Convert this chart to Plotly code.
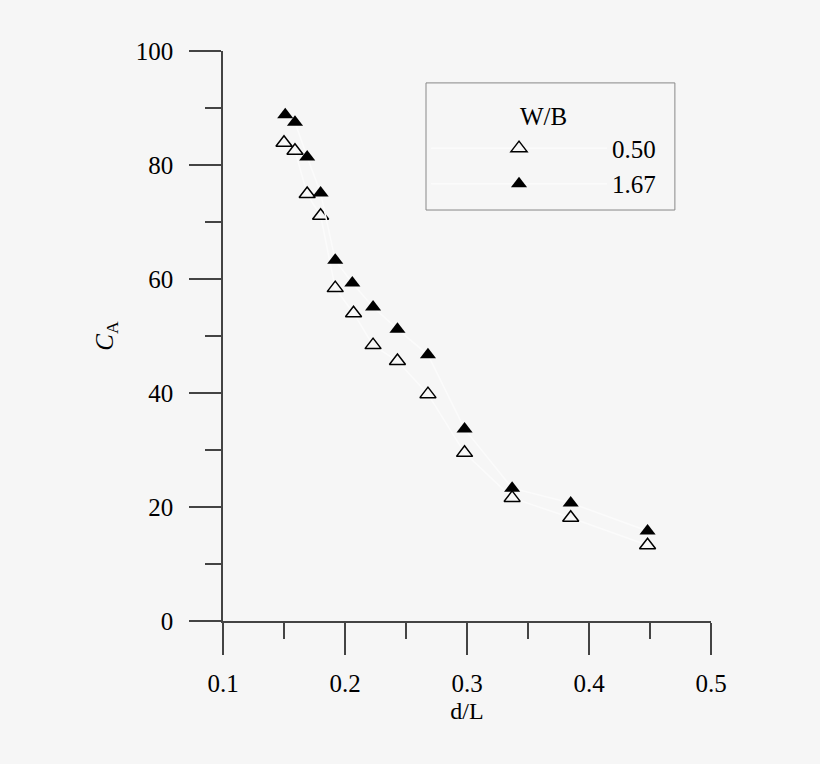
import plotly.graph_objects as go

# d/L and C_A
dl_050 = [0.150, 0.159, 0.169, 0.180, 0.192, 0.207, 0.223, 0.243, 0.268, 0.298, 0.337, 0.385, 0.448]
ca_050 = [83.9, 82.5, 74.9, 71.1, 58.4, 54.0, 48.4, 45.6, 39.8, 29.5, 21.6, 18.1, 13.3]

dl_167 = [0.151, 0.159, 0.169, 0.180, 0.192, 0.206, 0.223, 0.243, 0.268, 0.298, 0.337, 0.385, 0.448]
ca_167 = [88.8, 87.5, 81.4, 75.1, 63.3, 59.3, 55.1, 51.2, 46.7, 33.7, 23.3, 20.7, 15.8]

series_names = ["0.50", "1.67"]

bg = "#f6f6f6"
axis_col = "#444444"
faint = "#fbfbfb"
font_fam = "Liberation Serif, Times New Roman, serif"

fig = go.Figure()
fig.add_trace(go.Scatter(
    x=dl_050, y=ca_050, name=series_names[0], mode="lines+markers",
    line=dict(color=faint, width=1.5),
    marker=dict(symbol="triangle-up-open", size=14, color="black", line=dict(width=1.5, color="black"))))
fig.add_trace(go.Scatter(
    x=dl_167, y=ca_167, name=series_names[1], mode="lines+markers",
    line=dict(color=faint, width=1.5),
    marker=dict(symbol="triangle-up", size=14, color="black")))

# legend frame drawn separately so its size can follow the original
fig.add_shape(type="rect", xref="paper", yref="paper", layer="below",
              x0=0.416, x1=0.926, y0=0.721, y1=0.944,
              line=dict(color="#888888", width=1))

fig.update_layout(
    width=820, height=764,
    margin=dict(l=223, r=109, t=51, b=143),
    paper_bgcolor=bg, plot_bgcolor=bg,
    font=dict(family=font_fam, size=25, color="black"),
    legend=dict(
        title=dict(text="W/B", side="top center", font=dict(size=25)),
        x=0.416, y=0.9265, xanchor="left", yanchor="top",
        bgcolor="rgba(0,0,0,0)", borderwidth=0,
        itemwidth=176, font=dict(size=25)),
)
fig.update_xaxes(
    range=[0.1, 0.5], tickvals=[0.1, 0.2, 0.3, 0.4, 0.5], ticktext=["0.1", "0.2", "0.3", "0.4", "0.5"],
    showgrid=False, zeroline=False, showline=True, linecolor=axis_col, linewidth=1.5,
    ticks="outside", ticklen=32, tickwidth=1.5, tickcolor=axis_col, ticklabelstandoff=7,
    minor=dict(tickvals=[0.15, 0.25, 0.35, 0.45], ticks="outside", ticklen=16, tickwidth=1.5, tickcolor=axis_col),
    title=dict(text="d/L", font=dict(size=24), standoff=6))
fig.update_yaxes(
    range=[0, 100], tickvals=[0, 20, 40, 60, 80, 100],
    showgrid=False, zeroline=False, showline=True, linecolor=axis_col, linewidth=1.5,
    ticks="outside", ticklen=32, tickwidth=1.5, tickcolor=axis_col, ticklabelstandoff=11,
    minor=dict(tickvals=[10, 30, 50, 70, 90], ticks="outside", ticklen=16, tickwidth=1.5, tickcolor=axis_col),
    title=dict(text="<i>C</i><sub>A</sub>", font=dict(size=25), standoff=15))

fig.write_html("out.html", config={"displayModeBar": False},
               post_script="document.body.style.margin='0';document.body.style.background='%s';" % bg)
